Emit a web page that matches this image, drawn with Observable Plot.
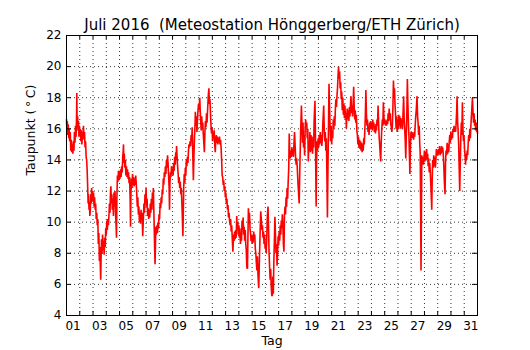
<!DOCTYPE html>
<html>
<head>
<meta charset="utf-8">
<script src="https://cdn.jsdelivr.net/npm/d3@7"></script>
<script src="https://cdn.jsdelivr.net/npm/@observablehq/plot@0.6"></script>
<style>
  html, body { margin: 0; padding: 0; background: #fff; }
</style>
</head>
<body>
<div id="chart"></div>
<script>
const titel = "Juli 2016  (Meteostation Hönggerberg/ETH Zürich)";
const xTitel = "Tag";
const yTitel = "Taupunkt (\u2009°\u2009C)";

// x tick labels (placed at the middle of each labelled day)
const tagLabels = ["01","03","05","07","09","11","13","15","17","19","21","23","25","27","29","31"];
const tagMitte = [0.5,2.5,4.5,6.5,8.5,10.5,12.5,14.5,16.5,18.5,20.5,22.5,24.5,26.5,28.5,30.5];
// day boundaries (grid + ticks), days since 1 July 00:00
const tagGrenzen = [1,2,3,4,5,6,7,8,9,10,11,12,13,14,15,16,17,18,19,20,21,22,23,24,25,26,27,28,29,30];
const yTicks = [4,6,8,10,12,14,16,18,20,22];
const yGitter = [6,8,10,12,14,16,18,20];

// [days since 1 July 00:00, dew point °C]
const messwerte = [
[0.00,16.6],[0.03,15.9],[0.06,16.5],[0.10,15.6],[0.13,16.3],[0.17,15.4],[0.20,16.0],[0.24,15.2],[0.28,15.8],[0.32,14.6],
[0.36,15.3],[0.40,14.5],[0.44,15.0],[0.48,14.4],[0.52,15.2],[0.56,14.6],[0.60,15.8],[0.64,15.1],[0.68,16.2],[0.72,15.5],
[0.76,16.8],[0.78,18.3],[0.80,16.2],[0.84,16.8],[0.87,15.9],[0.90,16.5],[0.94,15.5],[0.97,16.2],[1.00,15.6],[1.04,16.0],
[1.08,15.2],[1.12,15.9],[1.16,15.0],[1.20,15.8],[1.24,15.3],[1.28,16.2],[1.32,15.4],[1.36,15.8],[1.40,14.8],[1.44,15.2],
[1.48,14.2],[1.52,14.0],[1.56,13.3],[1.60,12.2],[1.63,11.2],[1.66,11.8],[1.70,10.8],[1.73,11.3],[1.76,10.4],[1.80,10.8],
[1.83,11.8],[1.86,11.2],[1.90,12.2],[1.93,11.5],[1.96,12.0],[2.00,11.3],[2.04,11.9],[2.08,11.0],[2.12,11.6],[2.16,10.8],
[2.20,11.2],[2.24,10.2],[2.28,10.6],[2.32,9.8],[2.36,10.2],[2.40,8.6],[2.44,9.3],[2.48,7.5],[2.52,8.4],[2.55,7.2],
[2.58,6.3],[2.61,7.8],[2.64,8.9],[2.68,8.0],[2.72,9.2],[2.76,8.2],[2.80,8.8],[2.84,7.9],[2.88,9.0],[2.92,8.4],
[2.96,9.6],[3.00,9.2],[3.04,10.1],[3.08,9.5],[3.12,10.2],[3.16,9.8],[3.20,10.4],[3.24,11.2],[3.28,10.6],[3.32,12.0],
[3.35,12.3],[3.38,11.2],[3.42,11.8],[3.46,10.8],[3.50,11.5],[3.54,10.4],[3.58,11.9],[3.62,11.0],[3.66,12.0],[3.70,10.6],
[3.74,9.8],[3.77,9.0],[3.80,11.5],[3.84,13.0],[3.88,12.6],[3.92,13.3],[3.96,12.7],[4.00,13.2],[4.04,12.8],[4.08,13.4],
[4.12,12.9],[4.16,13.6],[4.20,13.2],[4.24,14.2],[4.28,14.6],[4.30,15.0],[4.32,13.8],[4.36,14.4],[4.40,13.5],[4.44,14.0],
[4.48,13.0],[4.52,13.6],[4.56,12.9],[4.60,13.4],[4.64,12.8],[4.68,13.2],[4.72,12.5],[4.76,12.9],[4.80,11.5],[4.83,9.7],
[4.86,11.8],[4.90,12.8],[4.94,12.2],[4.98,13.1],[5.02,12.4],[5.06,12.9],[5.10,12.3],[5.14,12.8],[5.18,12.4],[5.22,13.0],
[5.26,12.5],[5.30,11.8],[5.34,11.0],[5.38,11.6],[5.42,10.5],[5.46,11.0],[5.50,10.0],[5.54,10.6],[5.58,9.9],[5.62,10.8],
[5.66,10.2],[5.70,10.6],[5.75,9.1],[5.80,10.3],[5.84,11.2],[5.88,10.6],[5.92,11.8],[5.96,11.2],[6.00,12.2],[6.04,11.0],
[6.08,11.5],[6.12,10.4],[6.16,10.9],[6.20,10.2],[6.24,10.8],[6.28,10.3],[6.32,11.2],[6.36,10.6],[6.40,11.5],[6.44,10.8],
[6.48,11.9],[6.52,11.3],[6.55,12.2],[6.58,11.0],[6.62,9.5],[6.65,8.3],[6.68,7.3],[6.71,8.6],[6.74,9.7],[6.78,9.2],
[6.82,9.8],[6.86,9.3],[6.90,10.0],[6.94,9.6],[6.98,10.5],[7.02,10.2],[7.06,11.2],[7.10,10.9],[7.14,11.6],[7.18,11.2],
[7.22,12.1],[7.26,11.8],[7.30,12.8],[7.34,12.4],[7.38,13.2],[7.42,12.9],[7.46,13.6],[7.50,13.1],[7.54,14.0],[7.58,13.5],
[7.62,14.3],[7.66,13.8],[7.70,13.0],[7.74,12.2],[7.77,10.8],[7.80,12.5],[7.84,13.2],[7.88,12.9],[7.92,13.6],[7.96,13.1],
[8.00,13.4],[8.04,13.0],[8.08,13.8],[8.12,13.3],[8.16,14.2],[8.20,13.7],[8.24,14.5],[8.28,14.0],[8.30,14.9],[8.34,14.2],
[8.38,13.6],[8.42,13.1],[8.46,12.5],[8.50,12.9],[8.54,12.2],[8.58,12.6],[8.62,11.8],[8.66,12.2],[8.72,10.8],[8.78,9.1],
[8.81,10.6],[8.84,12.2],[8.88,13.1],[8.92,12.5],[8.96,13.5],[9.00,13.0],[9.04,14.0],[9.08,13.6],[9.12,14.2],[9.16,13.8],
[9.20,14.6],[9.24,15.0],[9.28,14.8],[9.32,15.2],[9.36,14.9],[9.40,15.6],[9.44,15.2],[9.48,16.1],[9.52,14.5],[9.57,12.7],
[9.61,14.2],[9.65,15.4],[9.68,15.9],[9.72,17.1],[9.76,16.2],[9.80,16.8],[9.84,15.8],[9.88,16.6],[9.92,17.2],[9.96,17.6],
[10.00,17.2],[10.05,18.0],[10.08,17.3],[10.12,16.5],[10.16,15.9],[10.20,16.8],[10.24,16.0],[10.28,16.4],[10.32,15.6],[10.36,15.1],
[10.40,14.5],[10.44,15.8],[10.48,16.5],[10.52,16.1],[10.56,17.0],[10.60,16.4],[10.64,17.2],[10.70,18.2],[10.74,18.6],[10.78,17.6],
[10.82,17.9],[10.86,17.0],[10.90,16.2],[10.94,15.7],[10.98,16.1],[11.02,15.2],[11.06,15.8],[11.10,15.4],[11.14,15.9],[11.18,15.0],
[11.22,14.5],[11.26,15.3],[11.30,15.6],[11.34,15.1],[11.38,15.5],[11.42,15.0],[11.46,15.4],[11.50,15.2],[11.54,15.5],[11.58,15.0],
[11.62,15.3],[11.66,14.8],[11.70,14.0],[11.74,13.0],[11.78,12.9],[11.82,12.4],[11.86,12.7],[11.90,12.0],[11.94,12.3],[11.98,11.6],
[12.02,11.9],[12.06,11.2],[12.10,11.5],[12.14,10.8],[12.18,11.1],[12.22,10.3],[12.26,10.6],[12.30,10.1],[12.34,9.8],[12.38,10.2],
[12.42,9.4],[12.46,9.8],[12.50,9.0],[12.55,8.1],[12.60,9.2],[12.64,8.8],[12.68,9.4],[12.72,8.9],[12.76,9.5],[12.80,9.0],
[12.84,10.4],[12.88,9.6],[12.92,10.0],[12.96,9.2],[13.00,9.8],[13.04,9.0],[13.08,9.6],[13.12,8.6],[13.16,9.2],[13.20,8.8],
[13.24,10.1],[13.28,9.5],[13.32,10.3],[13.36,9.2],[13.40,9.7],[13.44,8.8],[13.48,9.5],[13.52,8.6],[13.56,8.2],[13.60,7.1],
[13.65,7.0],[13.68,8.8],[13.72,10.9],[13.76,10.2],[13.80,10.6],[13.84,9.6],[13.88,9.3],[13.92,8.8],[13.96,9.2],[14.00,8.6],
[14.04,9.1],[14.08,8.7],[14.12,9.4],[14.16,8.9],[14.20,9.2],[14.24,8.3],[14.28,8.0],[14.32,7.4],[14.36,6.9],[14.40,7.8],
[14.45,6.5],[14.50,5.75],[14.55,7.6],[14.60,9.2],[14.65,10.7],[14.70,10.1],[14.74,9.5],[14.78,9.8],[14.82,9.0],[14.86,9.4],
[14.90,8.6],[14.94,9.2],[14.98,8.3],[15.02,8.6],[15.06,8.0],[15.10,8.8],[15.15,10.4],[15.20,11.0],[15.24,9.6],[15.28,8.0],
[15.32,7.1],[15.36,6.3],[15.40,7.0],[15.44,5.9],[15.48,5.3],[15.52,5.25],[15.56,6.5],[15.60,5.4],[15.64,7.5],[15.68,8.8],
[15.72,10.35],[15.76,9.2],[15.80,8.0],[15.84,8.6],[15.88,7.2],[15.92,8.0],[15.96,9.1],[16.00,8.5],[16.04,9.4],[16.08,8.8],
[16.12,9.8],[16.16,9.2],[16.20,10.1],[16.24,9.6],[16.28,10.5],[16.32,9.8],[16.36,8.6],[16.40,8.1],[16.44,10.4],[16.48,11.0],
[16.52,10.5],[16.56,11.6],[16.60,11.0],[16.64,12.2],[16.68,11.5],[16.72,12.6],[16.76,13.4],[16.80,15.7],[16.84,14.5],[16.88,14.1],
[16.92,14.6],[16.96,14.2],[17.00,14.8],[17.04,14.3],[17.08,14.7],[17.12,14.2],[17.16,15.1],[17.20,15.8],[17.24,15.0],[17.28,14.2],
[17.32,13.7],[17.36,14.1],[17.40,13.6],[17.46,12.5],[17.55,11.2],[17.60,13.5],[17.66,15.8],[17.72,17.5],[17.76,16.2],[17.80,15.1],
[17.84,16.4],[17.88,14.8],[17.92,15.6],[17.96,14.3],[18.00,16.0],[18.04,16.6],[18.08,16.1],[18.12,16.4],[18.16,15.4],[18.20,16.0],
[18.24,13.9],[18.28,15.2],[18.32,14.6],[18.36,15.8],[18.40,14.5],[18.44,15.6],[18.48,14.6],[18.52,15.5],[18.56,14.4],[18.60,15.2],
[18.64,14.8],[18.68,16.6],[18.74,17.8],[18.77,16.0],[18.80,13.5],[18.83,11.0],[18.86,13.8],[18.90,15.2],[18.94,14.6],[18.98,15.4],
[19.02,14.8],[19.06,15.6],[19.10,15.0],[19.14,15.8],[19.18,15.1],[19.22,15.6],[19.26,14.9],[19.30,15.5],[19.34,16.4],[19.40,17.5],
[19.44,16.0],[19.48,15.2],[19.52,15.8],[19.56,14.6],[19.60,15.4],[19.64,13.2],[19.68,10.3],[19.72,13.5],[19.76,16.0],[19.80,18.9],
[19.84,17.4],[19.88,16.1],[19.92,15.2],[19.96,16.2],[20.00,15.0],[20.04,15.8],[20.08,15.4],[20.12,16.6],[20.16,16.0],[20.20,16.8],
[20.24,16.2],[20.28,17.3],[20.32,17.9],[20.36,17.4],[20.40,18.1],[20.44,18.6],[20.48,19.4],[20.52,20.0],[20.56,19.2],[20.60,19.7],
[20.64,18.6],[20.68,19.0],[20.72,17.9],[20.76,18.4],[20.80,17.2],[20.84,18.0],[20.88,16.9],[20.92,17.6],[20.96,16.7],[21.00,17.5],
[21.04,16.6],[21.08,17.0],[21.11,16.0],[21.14,16.9],[21.18,17.3],[21.22,16.6],[21.26,17.2],[21.30,16.5],[21.34,17.4],[21.38,16.8],
[21.42,17.6],[21.46,18.1],[21.50,17.0],[21.54,17.5],[21.58,16.8],[21.62,17.6],[21.66,18.7],[21.70,17.4],[21.74,16.6],[21.78,17.2],
[21.82,16.4],[21.86,16.9],[21.90,15.9],[21.94,15.6],[21.98,15.0],[22.02,15.5],[22.06,14.8],[22.10,15.3],[22.14,14.7],[22.18,15.2],
[22.22,14.6],[22.26,15.1],[22.30,14.5],[22.34,15.0],[22.38,14.6],[22.42,15.4],[22.46,15.0],[22.50,15.9],[22.54,16.8],[22.58,18.5],
[22.62,17.0],[22.66,16.2],[22.70,16.6],[22.74,15.8],[22.78,16.2],[22.82,15.6],[22.86,16.4],[22.90,16.0],[22.94,16.5],[22.98,16.0],
[23.02,16.4],[23.06,15.9],[23.10,16.6],[23.14,16.1],[23.18,16.4],[23.22,15.8],[23.26,16.2],[23.30,15.7],[23.34,16.3],[23.38,15.9],
[23.42,16.6],[23.46,16.2],[23.50,17.5],[23.54,16.4],[23.58,15.5],[23.62,15.0],[23.66,14.4],[23.70,13.9],[23.74,15.2],[23.78,16.0],
[23.82,16.6],[23.86,16.2],[23.90,17.7],[23.94,16.8],[23.98,16.3],[24.02,16.6],[24.06,16.2],[24.10,16.5],[24.14,16.2],[24.18,16.6],
[24.22,16.3],[24.26,17.0],[24.30,16.5],[24.34,17.3],[24.38,16.6],[24.42,17.0],[24.46,16.3],[24.50,16.1],[24.54,15.8],[24.58,16.2],
[24.62,17.4],[24.66,19.1],[24.70,18.0],[24.74,18.6],[24.78,17.5],[24.82,16.9],[24.86,16.0],[24.90,16.8],[24.94,15.8],[24.98,16.6],
[25.02,16.0],[25.06,16.9],[25.10,16.2],[25.14,16.8],[25.18,16.0],[25.22,16.7],[25.26,16.1],[25.30,16.6],[25.34,16.0],[25.38,16.9],
[25.43,18.1],[25.47,16.6],[25.51,16.0],[25.55,15.2],[25.59,14.1],[25.63,15.6],[25.67,17.0],[25.71,19.2],[25.75,17.6],[25.79,16.3],
[25.83,15.5],[25.87,14.2],[25.90,13.1],[25.94,14.8],[25.98,15.8],[26.02,15.4],[26.06,15.8],[26.10,15.4],[26.14,15.7],[26.18,15.3],
[26.22,15.8],[26.26,15.5],[26.30,16.2],[26.34,16.8],[26.38,17.2],[26.44,18.1],[26.48,16.8],[26.52,16.4],[26.56,15.6],[26.60,16.2],
[26.64,15.1],[26.68,14.4],[26.71,11.0],[26.74,6.9],[26.77,10.5],[26.80,14.3],[26.84,13.8],[26.88,14.2],[26.92,13.7],[26.96,14.1],
[27.00,14.6],[27.04,13.9],[27.08,14.5],[27.12,14.0],[27.16,14.7],[27.20,14.1],[27.24,14.4],[27.28,13.6],[27.32,14.1],[27.36,13.2],
[27.40,13.8],[27.44,13.2],[27.48,12.4],[27.52,11.5],[27.55,10.8],[27.58,12.6],[27.62,14.0],[27.66,13.5],[27.70,14.3],[27.74,13.6],
[27.78,14.2],[27.82,13.5],[27.86,14.0],[27.90,14.7],[27.94,14.3],[27.98,14.6],[28.02,14.3],[28.06,14.7],[28.10,14.4],[28.14,14.9],
[28.18,14.3],[28.22,14.8],[28.26,14.4],[28.30,14.9],[28.34,14.5],[28.38,14.8],[28.42,14.3],[28.46,13.6],[28.50,12.6],[28.55,11.8],
[28.59,13.9],[28.63,14.6],[28.67,14.3],[28.71,15.1],[28.75,14.4],[28.79,15.0],[28.83,14.5],[28.87,15.2],[28.91,15.6],[28.95,15.1],
[28.99,15.8],[29.03,15.3],[29.07,15.7],[29.11,15.4],[29.15,16.0],[29.19,15.8],[29.23,16.2],[29.27,15.8],[29.31,16.1],[29.35,15.8],
[29.39,16.4],[29.43,17.2],[29.46,18.1],[29.50,16.5],[29.54,15.8],[29.58,15.0],[29.62,13.4],[29.66,12.0],[29.70,13.8],[29.74,15.4],
[29.78,16.4],[29.82,15.6],[29.86,17.7],[29.90,16.0],[29.94,15.2],[29.98,15.6],[30.02,14.7],[30.06,14.3],[30.10,13.7],[30.14,14.4],
[30.18,14.0],[30.22,14.6],[30.26,14.3],[30.30,15.1],[30.34,15.6],[30.38,15.2],[30.42,16.0],[30.46,15.4],[30.50,16.2],[30.54,16.8],
[30.58,17.4],[30.62,18.0],[30.66,17.1],[30.70,16.4],[30.74,17.0],[30.78,16.2],[30.82,16.6],[30.86,15.9],[30.90,16.4],[30.94,15.8],
[30.98,16.0],[31.00,15.7]
];

const breite = 530, hoehe = 350;
const rand = {top: 35, right: 53, bottom: 35, left: 66};
const innenH = hoehe - rand.top - rand.bottom;
const innenB = breite - rand.left - rand.right;
const tickLaenge = 4;
const gitterStil = {stroke: "black", strokeOpacity: 1, strokeWidth: 0.8, strokeDasharray: "1,3"};

const chart = Plot.plot({
  width: breite,
  height: hoehe,
  marginTop: rand.top,
  marginRight: rand.right,
  marginBottom: rand.bottom,
  marginLeft: rand.left,
  style: {fontFamily: "'DejaVu Sans', sans-serif", fontSize: "12px", background: "white", color: "black"},
  x: {domain: [0, 31]},
  y: {domain: [4, 22]},
  marks: [
    Plot.gridX(tagGrenzen, gitterStil),
    Plot.gridY(yGitter, gitterStil),
    Plot.line(messwerte, {x: d => d[0], y: d => d[1], stroke: "#ff0000", strokeWidth: 1.6, strokeLinejoin: "miter"}),
    // inward tick marks on all four sides
    Plot.tickX(tagGrenzen, {x: d => d, stroke: "black", insetBottom: innenH - tickLaenge}),
    Plot.tickX(tagGrenzen, {x: d => d, stroke: "black", insetTop: innenH - tickLaenge}),
    Plot.tickY(yTicks.slice(1, -1), {y: d => d, stroke: "black", insetRight: innenB - tickLaenge - 1}),
    Plot.tickY(yTicks.slice(1, -1), {y: d => d, stroke: "black", insetLeft: innenB - tickLaenge - 1}),
    Plot.axisX(tagMitte, {anchor: "bottom", tickSize: 0, tickPadding: 6, label: null, fontSize: 12,
      tickFormat: d => tagLabels[tagMitte.indexOf(d)]}),
    Plot.axisY(yTicks, {anchor: "left", tickSize: 0, tickPadding: 5, label: null, fontSize: 12}),
    Plot.frame({stroke: "black", strokeWidth: 1}),
    Plot.text([titel], {frameAnchor: "top", dy: -16, fontSize: 15}),
    Plot.text([xTitel], {frameAnchor: "bottom", dy: 29, fontSize: 12.5}),
    Plot.text([yTitel], {frameAnchor: "left", dx: -36, rotate: -90, fontSize: 12.5})
  ]
});
document.getElementById("chart").appendChild(chart);
</script>
</body>
</html>
